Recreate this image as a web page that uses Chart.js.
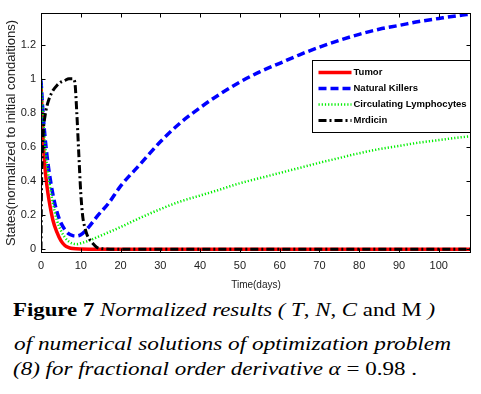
<!DOCTYPE html>
<html>
<head>
<meta charset="utf-8">
<title>Figure 7</title>
<script src="https://cdn.jsdelivr.net/npm/chart.js@4.4.0/dist/chart.umd.min.js"></script>
<style>
  body { margin: 0; background: #fff; }
  #wrap { position: relative; width: 481px; height: 394px; overflow: hidden; }
  #plot { position: absolute; left: 0; top: 0; }
  .cap { position: absolute; white-space: nowrap; font-family: "Liberation Serif", "Times New Roman", serif;
         font-size: 19px; line-height: 20px; color: #000; transform-origin: 0 0; }
</style>
</head>
<body>
<div id="wrap">
  <canvas id="plot" width="481" height="295"></canvas>
  <div class="cap" style="top:300px;left:13px" data-w="422"><b>Figure 7</b> <i>Normalized results ( T</i>, <i>N</i>, <i>C</i> and M <i>)</i></div>
  <div class="cap" style="top:334px;left:14px" data-w="437"><i>of numerical solutions of optimization problem</i></div>
  <div class="cap" style="top:359px;left:13px" data-w="404"><i>(8) for fractional order derivative &alpha;</i> = 0.98 .</div>
</div>
<script>
// values (time in days, states normalized)
var tumorDays = [0, 0.4, 1, 1.5, 2, 3, 4, 5, 6, 7, 8, 10, 15, 108];
var tumor     = [0.98, 0.7, 0.48, 0.37, 0.29, 0.17, 0.1, 0.05, 0.022, 0.01, 0.004, 0.001, 0, 0];

var killerDays = [0, 0.5, 1, 1.5, 2, 3, 4, 5, 6, 7, 8, 9, 10, 12, 14, 17, 20, 25, 30, 35, 40, 45, 50, 55, 60, 65, 70, 75, 80, 85, 90, 95, 100, 105, 108];
var killers    = [0.99, 0.8, 0.66, 0.55, 0.46, 0.32, 0.22, 0.155, 0.115, 0.09, 0.08, 0.078, 0.085, 0.13, 0.19, 0.27, 0.37, 0.5, 0.63, 0.74, 0.83, 0.91, 0.98, 1.04, 1.09, 1.14, 1.185, 1.225, 1.26, 1.29, 1.312, 1.335, 1.353, 1.37, 1.378];

var lymphDays = [0, 0.5, 1, 1.5, 2, 3, 4, 5, 6, 7, 8, 9, 10, 12, 15, 20, 25, 30, 35, 40, 45, 50, 55, 60, 65, 70, 75, 80, 85, 90, 95, 100, 105, 108];
var lymph     = [1.0, 0.78, 0.62, 0.5, 0.41, 0.27, 0.17, 0.11, 0.07, 0.045, 0.033, 0.03, 0.035, 0.05, 0.08, 0.13, 0.185, 0.235, 0.28, 0.315, 0.35, 0.387, 0.417, 0.447, 0.477, 0.507, 0.535, 0.563, 0.587, 0.606, 0.625, 0.64, 0.655, 0.662];

var medDays = [0, 0.1, 0.3, 0.6, 1, 1.5, 2, 3, 4, 5, 6, 7, 8, 8.5, 9, 9.5, 10, 10.5, 11, 11.5, 12, 13, 14, 15, 20, 108];
var medicin = [0, 0.3, 0.55, 0.7, 0.78, 0.84, 0.88, 0.93, 0.96, 0.98, 0.99, 1.0, 1.0, 0.98, 0.8, 0.56, 0.33, 0.19, 0.13, 0.09, 0.065, 0.035, 0.012, 0.004, 0, 0];

var xTicks = [0, 10, 20, 30, 40, 50, 60, 70, 80, 90, 100];
var yTicks = [0, 0.2, 0.4, 0.6, 0.8, 1, 1.2];
var names = ['Tumor', 'Natural Killers', 'Circulating Lymphocytes', 'Mrdicin'];

var sans = '"Liberation Sans", Arial, sans-serif';

function pts(xs, ys) {
  return xs.map(function (x, i) { return { x: x, y: ys[i] }; });
}

// matlab style box with inward ticks, plus the boxed legend
var framePlugin = {
  id: 'frame',
  afterDatasetsDraw: function (chart) {
    var a = chart.chartArea, ctx = chart.ctx;
    var xs = chart.scales.x, ys = chart.scales.y;
    var l = a.left + 0.5, r = a.right - 0.5, t = a.top + 0.5, b = a.bottom - 0.5;
    ctx.save();
    ctx.strokeStyle = '#000';
    ctx.lineWidth = 1;
    ctx.strokeRect(l, t, r - l, b - t);
    ctx.beginPath();
    xTicks.forEach(function (v) {
      var px = Math.round(xs.getPixelForValue(v)) + 0.5;
      ctx.moveTo(px, b); ctx.lineTo(px, b - 4);
      ctx.moveTo(px, t); ctx.lineTo(px, t + 4);
    });
    yTicks.forEach(function (v) {
      var py = Math.round(ys.getPixelForValue(v)) + 0.5;
      ctx.moveTo(l, py); ctx.lineTo(l + 4, py);
      ctx.moveTo(r, py); ctx.lineTo(r - 4, py);
    });
    ctx.stroke();
    ctx.restore();
  },
  afterDraw: function (chart) {
    var a = chart.chartArea, ctx = chart.ctx;
    var bx = 312.5, by = a.top + 47.5, bw = a.right - 0.5 - bx, bh = 72;
    ctx.save();
    ctx.fillStyle = '#fff';
    ctx.fillRect(bx, by, bw, bh);
    ctx.strokeStyle = '#000';
    ctx.lineWidth = 1;
    ctx.strokeRect(bx, by, bw, bh);
    ctx.font = 'bold 9.5px ' + sans;
    ctx.textBaseline = 'middle';
    chart.data.datasets.forEach(function (ds, i) {
      var y = by + 12 + i * 16;
      ctx.beginPath();
      ctx.strokeStyle = ds.borderColor;
      ctx.lineWidth = ds.borderWidth;
      ctx.setLineDash(ds.borderDash || []);
      ctx.moveTo(bx + 6, y);
      ctx.lineTo(bx + 39, y);
      ctx.stroke();
      ctx.setLineDash([]);
      ctx.fillStyle = '#000';
      ctx.fillText(ds.label, bx + 41, y);
    });
    ctx.restore();
  }
};

var chart = new Chart(document.getElementById('plot'), {
  type: 'line',
  data: {
    datasets: [
      { label: names[0], data: pts(tumorDays, tumor), borderColor: '#ff0000', borderWidth: 3.5, order: 4 },
      { label: names[1], data: pts(killerDays, killers), borderColor: '#0000ff', borderWidth: 3.5, borderDash: [8, 4], order: 3 },
      { label: names[2], data: pts(lymphDays, lymph), borderColor: '#00ee00', borderWidth: 2.5, borderDash: [1.2, 2], order: 2 },
      { label: names[3], data: pts(medDays, medicin), borderColor: '#000000', borderWidth: 3, borderDash: [8, 3, 2, 3], order: 1 }
    ]
  },
  options: {
    responsive: false,
    animation: false,
    devicePixelRatio: 1,
    layout: { padding: { top: 13, right: 10, left: 0, bottom: 0 } },
    elements: {
      point: { radius: 0 },
      line: { cubicInterpolationMode: 'monotone', fill: false }
    },
    plugins: { legend: { display: false }, tooltip: { enabled: false } },
    scales: {
      x: {
        type: 'linear', min: 0, max: 108.1,
        afterBuildTicks: function (s) { s.ticks = xTicks.map(function (v) { return { value: v }; }); },
        afterFit: function (s) { s.height = 42; },
        grid: { display: false, drawTicks: false },
        border: { display: false },
        ticks: { font: { family: sans, size: 11 }, color: '#222', padding: 6, maxRotation: 0, autoSkip: false },
        title: { display: true, text: 'Time(days)', font: { family: sans, size: 10 }, color: '#222', padding: { top: 0, bottom: 4 } }
      },
      y: {
        type: 'linear', min: -0.022, max: 1.385,
        afterBuildTicks: function (s) { s.ticks = yTicks.map(function (v) { return { value: v }; }); },
        afterFit: function (s) { s.width = 41; },
        grid: { display: false, drawTicks: false },
        border: { display: false },
        ticks: { font: { family: sans, size: 11 }, color: '#222', padding: 5, autoSkip: false,
                 callback: function (v) { return String(v); } },
        title: { display: true, text: 'States(normalized to initial condaitions)', font: { family: sans, size: 13 }, color: '#222', padding: { top: 4, bottom: 0 } }
      }
    }
  },
  plugins: [framePlugin]
});

// stretch caption lines to the widths in the figure
Array.prototype.forEach.call(document.querySelectorAll('.cap'), function (el) {
  var w = el.getBoundingClientRect().width;
  el.style.transform = 'scaleX(' + (parseFloat(el.getAttribute('data-w')) / w) + ')';
});
</script>
</body>
</html>
